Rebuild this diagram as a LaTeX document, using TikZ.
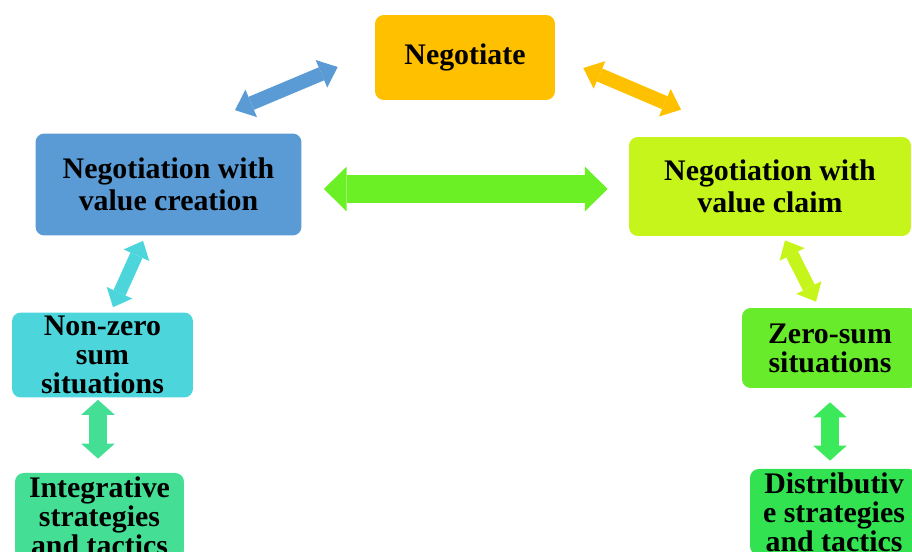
\documentclass[tikz,border=0pt]{standalone}
\usepackage{fontspec}
\setmainfont{Liberation Serif}
\usetikzlibrary{arrows.meta}
\definecolor{negcol}{HTML}{FFC000}
\definecolor{creacol}{HTML}{5B9BD5}
\definecolor{claimcol}{HTML}{C5F51B}
\definecolor{linkcol}{HTML}{6AF025}
\definecolor{nzcol}{HTML}{4DD5DC}
\definecolor{integcol}{HTML}{44DF95}
\definecolor{zscol}{HTML}{68EB2B}
\definecolor{distcol}{HTML}{33E250}
\definecolor{distarr}{HTML}{3BE95B}
\tikzset{
  stage/.style={fill=#1, rounded corners=5pt, align=center, inner sep=2pt,
    font=\bfseries\fontsize{17}{18}\selectfont},
  small/.style={font=\bfseries\fontsize{17}{16.5}\selectfont},
  twoway/.style n args={4}{draw=#1, line width=#2,
    arrows={Triangle[width=#3,length=#4,line width'=0pt]-Triangle[width=#3,length=#4,line width'=0pt]}}
}

\begin{document}
\begin{tikzpicture}[x=0.02cm,y=-0.02cm]
\useasboundingbox (0,0) rectangle (912,551);
\clip (0,0) rectangle (912,551);
% boxes
\node[stage=negcol, minimum width=3.6cm, minimum height=1.7cm] (neg) at (465,57.5) {Negotiate};
\node[stage=creacol, minimum width=5.32cm, minimum height=2.04cm] (crea) at (168.5,184.5) {Negotiation with\\value creation};
\node[stage=claimcol, minimum width=5.64cm, minimum height=1.98cm] (claim) at (770,186.5) {Negotiation with\\value claim};
\node[stage=nzcol, small, minimum width=3.62cm, minimum height=1.68cm] (nz) at (102.5,355) {Non-zero\\sum\\situations};
\node[stage=integcol, small, minimum width=3.38cm, minimum height=1.68cm] (integ) at (99.5,516) {Integrative\\strategies\\and tactics};
\node[stage=zscol, small, minimum width=3.52cm, minimum height=1.6cm] (zs) at (830,348) {Zero-sum\\situations};
\node[stage=distcol, small, minimum width=3.36cm, minimum height=1.68cm] (dist) at (834,512) {Distributiv\\e strategies\\and tactics};
% two-way arrows
\draw[twoway={creacol}{8pt}{17pt}{10pt}] ([shift={(66.5,-23)}]crea.north) -- ([shift={(-37,9.5)}]neg.west);
\draw[twoway={negcol}{8pt}{17pt}{10pt}] ([shift={(28,10.5)}]neg.east) -- ([shift={(-89,-27)}]claim.north);
\draw[twoway={linkcol}{16.5pt}{25.5pt}{13pt}] ([shift={(22,4.5)}]crea.east) -- ([shift={(-21,2.5)}]claim.west);
\draw[twoway={nzcol}{7.5pt}{16pt}{9pt}] ([shift={(-25.5,5)}]crea.south) -- ([shift={(10.5,-5)}]nz.north);
\draw[twoway={claimcol}{7.5pt}{16pt}{9pt}] ([shift={(15,4)}]claim.south) -- ([shift={(-14,-6)}]zs.north);
\draw[twoway={integcol}{10pt}{19pt}{8.5pt}] ([shift={(-4.5,2)}]nz.south) -- ([shift={(-1.5,-14)}]integ.north);
\draw[twoway={distarr}{10pt}{19pt}{8.5pt}] ([shift={(0,14)}]zs.south) -- ([shift={(-4,-8)}]dist.north);
\end{tikzpicture}
\end{document}
